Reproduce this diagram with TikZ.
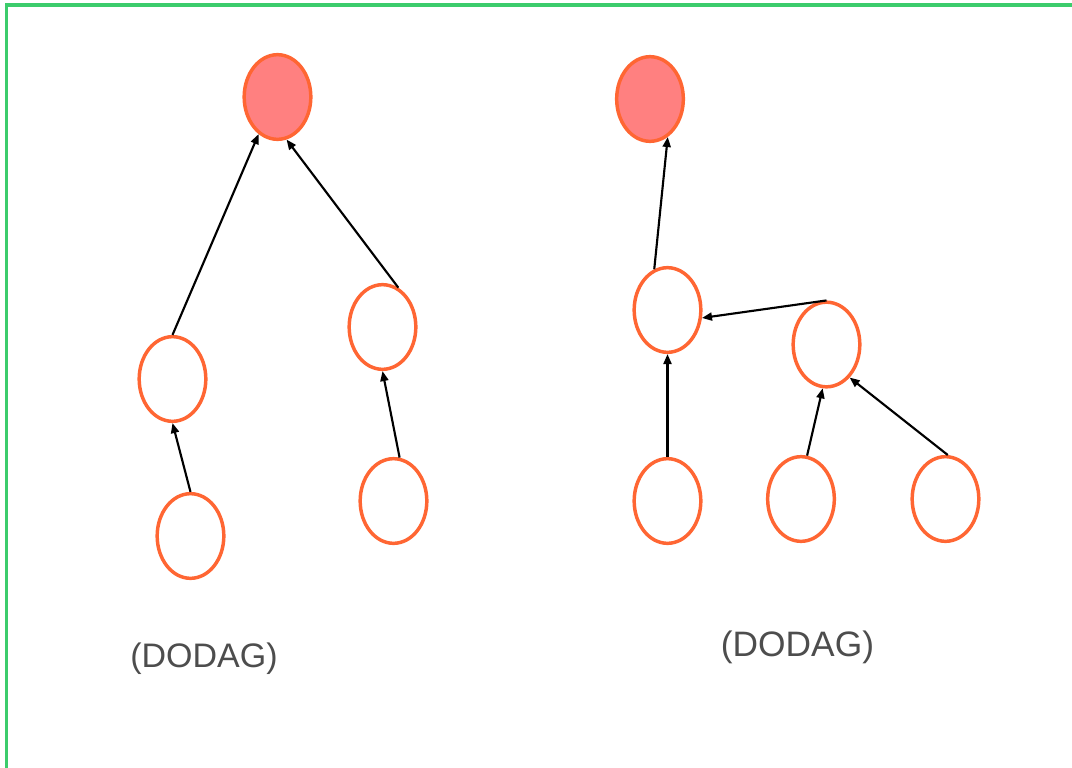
\documentclass[tikz,border=0pt]{standalone}
\usepackage{fontspec}
\setmainfont{Liberation Sans}
\usetikzlibrary{shapes.geometric,arrows.meta}
\definecolor{nodeline}{RGB}{255,102,51}
\definecolor{rootfill}{RGB}{255,128,128}
\definecolor{framegreen}{RGB}{60,204,108}
\definecolor{labelgray}{RGB}{77,77,77}
\tikzset{
  dnode/.style={ellipse, draw=nodeline, line width=2.6pt, minimum width=50pt, minimum height=63.5pt, inner sep=0pt, fill=white},
  rootnode/.style={dnode, fill=rootfill},
  link/.style={line width=1.6pt, -{Triangle[length=7.5pt,width=6pt]}},
  dlabel/.style={anchor=base, text=labelgray, inner sep=0pt}
}
\begin{document}
\begin{tikzpicture}[x=0.75pt,y=-0.75pt]
\clip (0,0) rectangle (1072,768);
\fill[white] (0,0) rectangle (1072,768);
\draw[framegreen, line width=2.6pt] (6.7,5) rectangle (1090,790);
% left DODAG
\node[rootnode] (r1) at (277.5,97) {};
\node[dnode] (a) at (172.5,379) {};
\node[dnode] (b) at (190.5,536) {};
\node[dnode] (c) at (382.5,327) {};
\node[dnode] (d) at (393.5,501) {};
\draw[link] (a.north) -- (r1.243);
\draw[link] (c.68) -- (r1.282);
\draw[link] (b.north) -- (a.south);
\draw[link] (d.82) -- (c.south);
\node[dlabel, font=\fontsize{25.5pt}{30pt}\selectfont] (l1) at (204,667) {(DODAG)};
% right DODAG
\node[rootnode] (r2) at (650,99) {};
\node[dnode] (m) at (667.5,310) {};
\node[dnode] (n) at (826.5,344.5) {};
\node[dnode] (p1) at (667.5,501) {};
\node[dnode] (p2) at (801,499) {};
\node[dnode] (p3) at (945.5,499) {};
\draw[link] (m.108) -- (r2.295);
\draw[link] (n.north) -- (m.347);
\draw[link] (p1.north) -- (m.south);
\draw[link] (p2.82) -- (n.265);
\draw[link] (p3.87) -- (n.305);
\node[dlabel, font=\fontsize{26.5pt}{31pt}\selectfont] (l2) at (797.5,656) {(DODAG)};
\end{tikzpicture}
\end{document}
